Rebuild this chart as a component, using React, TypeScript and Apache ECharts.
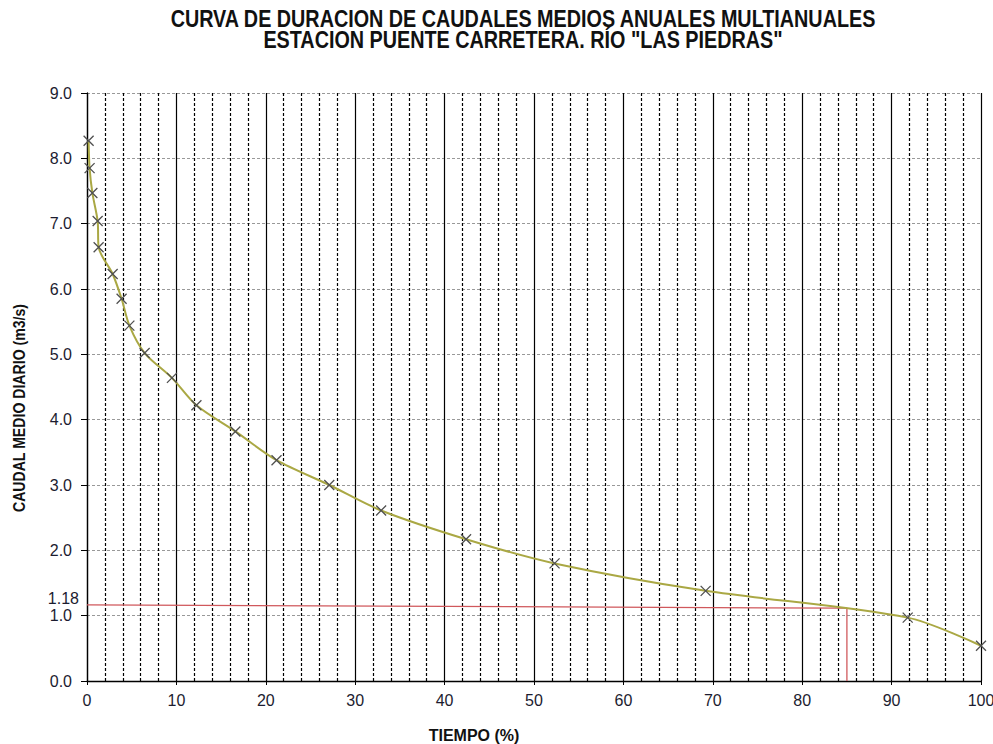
import React, { useEffect, useRef } from "react";
import * as echarts from "echarts";

const titleLines = [
  "CURVA DE DURACION DE CAUDALES MEDIOS ANUALES MULTIANUALES",
  'ESTACION PUENTE CARRETERA. RÍO "LAS PIEDRAS"',
];
const xName = "TIEMPO (%)";
const yName = "CAUDAL MEDIO DIARIO (m3/s)";

// % of time exceeded
const tiempo = [0.18, 0.29, 0.6, 1.19, 1.3, 2.87, 3.87, 4.74, 6.45, 9.5, 12.24, 16.6, 21.2, 27.1, 32.9, 42.4, 52.3, 69.2, 91.8, 100];
// mean flow m3/s
const caudal = [8.27, 7.85, 7.47, 7.04, 6.64, 6.23, 5.85, 5.44, 5.02, 4.64, 4.22, 3.82, 3.38, 3.0, 2.61, 2.17, 1.8, 1.38, 0.97, 0.54];

// red reference line (Q85 = 1.18)
const refX = [0, 85, 85];
const refY = [1.165, 1.115, 0];
const refLabel = "1.18";

export default function App() {
  const ref = useRef<HTMLDivElement>(null);
  useEffect(() => {
    if (!ref.current) return;
    const chart = echarts.init(ref.current, null, { renderer: "svg" });
    const axisFont = "Liberation Sans, Arial, sans-serif";
    const labelColor = "#1c1c30";
    chart.setOption({
      animation: false,
      backgroundColor: "#ffffff",
      grid: { left: 87, right: 12, top: 93, bottom: 63, containLabel: false, outerBoundsMode: "none" },
      graphic: [
        {
          type: "text",
          x: 523,
          y: 19.5,
          scaleX: 0.86,
          style: {
            text: titleLines[0],
            font: "bold 23px 'Liberation Sans', Arial, sans-serif",
            fill: "#111",
            textAlign: "center",
            textVerticalAlign: "middle",
          },
        },
        {
          type: "text",
          x: 523,
          y: 40.5,
          scaleX: 0.86,
          style: {
            text: titleLines[1],
            font: "bold 23px 'Liberation Sans', Arial, sans-serif",
            fill: "#111",
            textAlign: "center",
            textVerticalAlign: "middle",
          },
        },
        {
          type: "text",
          x: 474,
          y: 735,
          style: {
            text: xName,
            font: "bold 16px 'Liberation Sans', Arial, sans-serif",
            fill: "#111",
            textAlign: "center",
            textVerticalAlign: "middle",
          },
        },
        {
          type: "text",
          x: 19,
          y: 408,
          rotation: Math.PI / 2,
          scaleX: 0.83,
          style: {
            text: yName,
            font: "bold 17px 'Liberation Sans', Arial, sans-serif",
            fill: "#111",
            textAlign: "center",
            textVerticalAlign: "middle",
          },
        },
      ],
      xAxis: {
        type: "value",
        min: 0,
        max: 100,
        interval: 10,
        axisLine: { show: true, lineStyle: { color: "#000", width: 1.3 } },
        axisTick: { show: true, length: 4, lineStyle: { color: "#000" } },
        axisLabel: { color: labelColor, fontSize: 16, fontFamily: axisFont, margin: 11 },
        splitLine: { show: true, lineStyle: { color: "#000", width: 1.2, type: "solid" } },
        minorTick: { show: false, splitNumber: 5 },
        minorSplitLine: { show: true, lineStyle: { color: "#000", width: 1.2, type: [3, 2] } },
      },
      yAxis: {
        type: "value",
        min: 0,
        max: 9,
        interval: 1,
        axisLine: { show: true, lineStyle: { color: "#000", width: 1.3 } },
        axisTick: { show: true, length: 6, lineStyle: { color: "#000" } },
        axisLabel: {
          color: labelColor,
          fontSize: 16,
          fontFamily: axisFont,
          margin: 15,
          formatter: (v: number) => v.toFixed(1),
        },
        splitLine: { show: true, lineStyle: { color: "#999", width: 1, type: [3, 2] } },
      },
      series: [
        {
          type: "line",
          data: refX.map((x, i) => [x, refY[i]]),
          showSymbol: false,
          symbol: "none",
          lineStyle: { color: "#d0585c", width: 1.3 },
          label: { show: false },
          z: 3,
          markPoint: {
            symbol: "circle",
            symbolSize: 0,
            label: {
              show: true,
              formatter: refLabel,
              position: "left",
              distance: 8,
              color: labelColor,
              fontSize: 16,
              fontFamily: axisFont,
              offset: [0, -6],
            },
            data: [{ coord: [refX[0], refY[0]] }],
          },
        },
        {
          type: "line",
          data: tiempo.map((x, i) => [x, caudal[i]]),
          smooth: 0.3,
          lineStyle: { color: "#aaa844", width: 2 },
          symbol: "path://M0,0L10,10M10,0L0,10",
          symbolSize: 10,
          showSymbol: true,
          itemStyle: { color: "transparent", borderColor: "#505050", borderWidth: 1.3 },
          z: 4,
        },
      ],
    });
    return () => chart.dispose();
  }, []);
  return <div ref={ref} style={{ width: 993, height: 744, position: "absolute", left: 0, top: 0 }} />;
}
